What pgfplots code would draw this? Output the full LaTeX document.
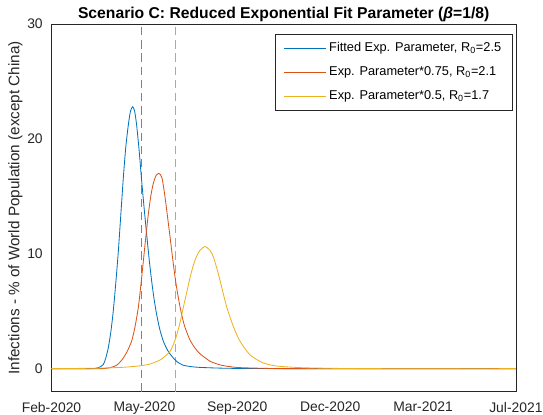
\documentclass[border=0pt]{standalone}
\usepackage{fontspec}
\setmainfont{Liberation Sans}
\usepackage{pgfplots}
\pgfplotsset{compat=1.18}
\definecolor{mblue}{RGB}{0,114,189}
\definecolor{mred}{RGB}{217,83,25}
\definecolor{myellow}{RGB}{237,177,32}
\definecolor{axgray}{RGB}{38,38,38}
\definecolor{dashblue}{RGB}{70,145,210}
\definecolor{dashred}{RGB}{236,145,120}
\begin{document}
\begin{tikzpicture}
\path[use as bounding box] (-37.08pt,-16.8pt) rectangle (353.9pt,282.0pt);
\begin{axis}[
  scale only axis, width=334.4pt, height=264.7pt,
  at={(0,0)}, anchor=south west,
  xmin=0, xmax=540, ymin=-2, ymax=30,
  xtick={0,108,216,324,432,540},
  xticklabels={Feb-2020,May-2020,Sep-2020,Dec-2020,Mar-2021,Jul-2021},
  ytick={0,10,20,30},
  major tick length=0,
  axis line style={draw=axgray, line width=0.5pt},
  tick label style={font=\fontsize{10}{12}\selectfont, text=axgray},
  /pgf/number format/assume math mode=true,
  xticklabel shift=4pt,
  yticklabel shift=2.8pt,
  ylabel={Infections - \% of World Population (except China)},
  ylabel style={font=\fontsize{11}{13}\selectfont, text=axgray, at={(axis description cs:-0.0775,0.5)}, anchor=center},
  every axis title shift=0pt,
  title={Scenario C: Reduced Exponential Fit Parameter ({\itshape β}=1/8)},
  title style={font=\bfseries\fontsize{11.3}{13}\selectfont, at={(axis description cs:0.5,1.0163)}, anchor=base, inner sep=0pt},
  legend style={at={(axis description cs:0.993,0.973)}, anchor=north east, draw=axgray, line width=0.5pt,
    font=\fontsize{9.2}{11}\selectfont, row sep=4pt, inner xsep=6pt, inner ysep=3.3pt,
    nodes={inner sep=2pt, text height=7pt, text depth=2.5pt}},
  legend cell align=left,
  legend image code/.code={\draw[#1] (0pt,0pt) -- (30pt,0pt);},
  clip=true,
]
\addplot[color=dashblue, solid, line width=0.9pt, dash pattern=on 6pt off 3.5pt, forget plot] table {
x y
104.4 -2
104.4 30
};
\addplot[color=dashred, solid, line width=0.9pt, dash pattern=on 6pt off 3.5pt, forget plot] table {
x y
144.4 -2
144.4 30
};
\addplot[mblue, line width=0.6pt, smooth, tension=0.4] coordinates {
(0,0) (40,0) (50,0.02) (55,0.1) (60.2,0.35) (63,0.9) (66.0,1.8) (69,3.2) (71.8,5.0) (74.8,7.5)
(77.7,10.2) (80.6,13.4) (83.5,16.6) (86.4,19.3) (89.3,21.2) (91.8,22.4) (94.4,22.8) (96.7,22.4)
(99.0,21.2) (101.9,19.0) (104.9,16.3) (107.8,13.9) (110.7,11.65) (113.6,9.5) (116.5,7.6) (119.4,6.0)
(122.3,4.7) (126,3.4) (130.0,2.4) (135,1.6) (139.7,1.1) (146,0.6) (153.2,0.3) (163,0.17) (172.6,0.11)
(190,0.06) (207.5,0.03) (250,0.01) (300,0) (540,0)};
\addlegendentry{Fitted Exp. Parameter, R\textsubscript{0}=2.5}
\addplot[mred, line width=0.6pt, smooth, tension=0.4] coordinates {
(0,0) (55,0) (62,0.02) (68,0.08) (75.8,0.3) (80,0.6) (83.5,0.93) (88,1.5) (93.2,2.4) (97,3.6)
(100.9,5.3) (103.8,7.2) (106.7,9.3) (109.6,11.4) (112.5,13.4) (115.4,15.0) (118.3,16.1) (121.5,16.8)
(125.0,17.0) (128.5,16.6) (131.9,15.0) (134.8,13.3) (137.8,11.5) (140.7,9.7) (143.6,8.0) (146.5,6.6)
(149.4,5.4) (152.3,4.4) (155.2,3.6) (161.0,2.5) (166.8,1.8) (172.6,1.3) (184.3,0.65) (195.9,0.33)
(207,0.18) (219.1,0.09) (254,0.02) (300,0) (540,0)};
\addlegendentry{Exp. Parameter*0.75, R\textsubscript{0}=2.1}
\addplot[myellow, line width=0.6pt, smooth, tension=0.4] coordinates {
(0,0) (30,0.02) (56.4,0.05) (83.5,0.12) (102.9,0.25) (114.5,0.4) (126.1,0.75) (133.9,1.2) (137.8,1.5)
(141.7,2.1) (145.5,2.9) (149.4,4.0) (153.2,5.3) (157.1,6.6) (161.0,7.9) (164.9,9.0) (168.8,9.8)
(172.6,10.3) (178.4,10.63) (184.3,10.3) (188.1,9.75) (192,8.8) (195.9,7.7) (199.8,6.5) (203.6,5.4)
(207.5,4.5) (211.3,3.7) (215.2,3.0) (219.1,2.4) (224.9,1.75) (230.8,1.2) (238.5,0.8) (246.2,0.5)
(255.9,0.3) (265.6,0.2) (292.4,0.08) (335,0.02) (380,0) (540,0)};
\addlegendentry{Exp. Parameter*0.5, R\textsubscript{0}=1.7}
\end{axis}
\end{tikzpicture}
\end{document}
